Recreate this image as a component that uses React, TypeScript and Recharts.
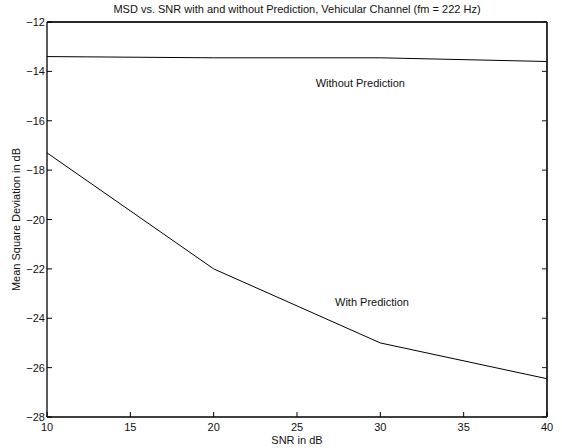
import React from "react";
import {
    LineChart,
    Line,
    XAxis,
    YAxis,
    ReferenceDot,
    ReferenceLine
} from "recharts";

const snrValues = [10, 20, 30, 40];
const msdWithoutPrediction = [-13.4, -13.45, -13.45, -13.6];
const msdWithPrediction = [-17.3, -22.0, -25.0, -26.45];

const xTicks = [10, 15, 20, 25, 30, 35, 40];
const yTicks = [-28, -26, -24, -22, -20, -18, -16, -14, -12];

const title = "MSD vs. SNR with and without Prediction, Vehicular Channel (fm = 222 Hz)";
const xTitle = "SNR in dB";
const yTitle = "Mean Square Deviation in dB";

const annotations = [
    { x: 28.8, y: -14.47, text: "Without Prediction" },
    { x: 29.5, y: -23.34, text: "With Prediction" },
];

const FONT = "'Liberation Sans', Arial, Helvetica, sans-serif";
const TICK_LEN = 5;
const BOX = "#1a1a1a";

const chartData = snrValues.map((snr, i) => ({
    snr,
    without: msdWithoutPrediction[i],
    withPred: msdWithPrediction[i],
}));

const fmt = (v: number) => (v < 0 ? `\u2212${Math.abs(v)}` : `${v}`);

const BottomTick = (props: any) => {
    const { x, y, payload } = props;
    return (
        <g>
            <line x1={x} x2={x} y1={y} y2={y - TICK_LEN} stroke="#000" />
            <text x={x} y={y + 14} textAnchor="middle" fontSize={11} fontFamily={FONT} fill="#111">
                {fmt(payload.value)}
            </text>
        </g>
    );
};

const LeftTick = (props: any) => {
    const { x, y, payload } = props;
    return (
        <g>
            <line x1={x} x2={x + TICK_LEN} y1={y} y2={y} stroke="#000" />
            <text x={x - 2} y={y + 4} textAnchor="end" fontSize={11} fontFamily={FONT} fill="#111">
                {fmt(payload.value)}
            </text>
        </g>
    );
};

// top and right axes only carry inward tick marks, like a boxed MATLAB axes
const TopTick = (props: any) => {
    const { x, y } = props;
    return <line x1={x} x2={x} y1={y} y2={y + TICK_LEN} stroke={BOX} />;
};

const RightTick = (props: any) => {
    const { x, y } = props;
    return <line x1={x} x2={x - TICK_LEN} y1={y} y2={y} stroke={BOX} />;
};

const axisLine = { stroke: "#000", strokeWidth: 1.3 };

export default function App() {
    return (
        <div style={{ position: "absolute", left: 0, top: 0, background: "#fff" }}>
            <LineChart
                width={562}
                height={448}
                data={chartData}
                margin={{ top: 21, right: 14, bottom: 0, left: 0 }}
            >
                <XAxis
                    dataKey="snr"
                    type="number"
                    domain={[10, 40]}
                    ticks={xTicks}
                    height={31}
                    tickSize={0}
                    tickMargin={0}
                    tickLine={false}
                    axisLine={axisLine}
                    tick={<BottomTick />}
                    interval={0}
                />
                <XAxis
                    xAxisId="top"
                    orientation="top"
                    type="number"
                    domain={[10, 40]}
                    allowDataOverflow
                    ticks={xTicks}
                    height={1}
                    tickSize={0}
                    tickMargin={0}
                    tickLine={false}
                    axisLine={{ stroke: BOX, strokeWidth: 1.3 }}
                    tick={<TopTick />}
                    interval={0}
                />
                <YAxis
                    type="number"
                    domain={[-28, -12]}
                    ticks={yTicks}
                    width={47}
                    tickSize={0}
                    tickMargin={0}
                    tickLine={false}
                    axisLine={axisLine}
                    tick={<LeftTick />}
                    interval={0}
                />
                <YAxis
                    yAxisId="right"
                    orientation="right"
                    type="number"
                    domain={[-28, -12]}
                    allowDataOverflow
                    ticks={yTicks}
                    width={1}
                    tickSize={0}
                    tickMargin={0}
                    tickLine={false}
                    axisLine={{ stroke: BOX, strokeWidth: 1.3 }}
                    tick={<RightTick />}
                    interval={0}
                />
                {/* close the box on top and right */}
                <ReferenceLine y={-12} stroke={BOX} strokeWidth={1.3} ifOverflow="visible" />
                <ReferenceLine x={40} stroke={BOX} strokeWidth={1.3} ifOverflow="visible" />
                <Line
                    type="linear"
                    dataKey="without"
                    stroke="#000"
                    strokeWidth={1}
                    dot={false}
                    isAnimationActive={false}
                />
                <Line
                    type="linear"
                    dataKey="withPred"
                    stroke="#000"
                    strokeWidth={1}
                    dot={false}
                    isAnimationActive={false}
                />
                {annotations.map((a) => (
                    <ReferenceDot
                        key={a.text}
                        x={a.x}
                        y={a.y}
                        r={0}
                        shape={(p: any) => (
                            <text
                                x={p.cx}
                                y={p.cy + 4}
                                textAnchor="middle"
                                fontSize={11}
                                fontFamily={FONT}
                                fill="#111"
                            >
                                {a.text}
                            </text>
                        )}
                    />
                ))}
                <text x={297} y={13} textAnchor="middle" fontSize={11} fontFamily={FONT} fill="#111">
                    {title}
                </text>
                <text x={297} y={444} textAnchor="middle" fontSize={11} fontFamily={FONT} fill="#111">
                    {xTitle}
                </text>
                <text
                    x={20}
                    y={219.5}
                    transform="rotate(-90 20 219.5)"
                    textAnchor="middle"
                    fontSize={11}
                    fontFamily={FONT}
                    fill="#111"
                >
                    {yTitle}
                </text>
            </LineChart>
        </div>
    );
}
